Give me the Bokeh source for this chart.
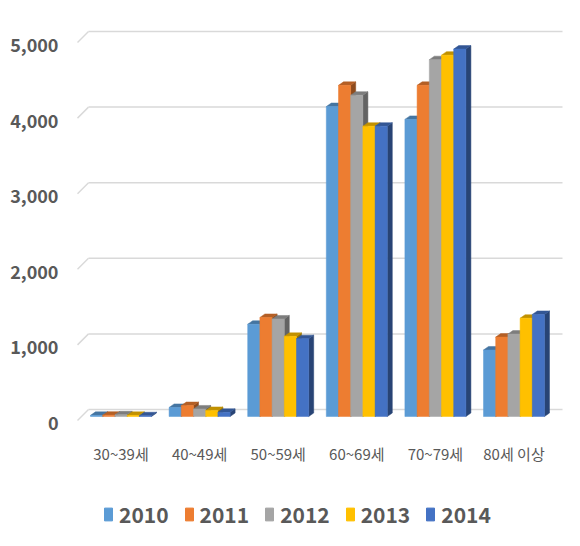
from bokeh.plotting import figure
from bokeh.layouts import column
from bokeh.models import Range1d, LinearAxis, FixedTicker, Legend, LegendItem, ColumnDataSource, NumeralTickFormatter
from bokeh.embed import file_html
from bokeh.resources import INLINE

categories = ["30~39세", "40~49세", "50~59세", "60~69세", "70~79세", "80세 이상"]
years = ["2010", "2011", "2012", "2013", "2014"]
v2010 = [15, 120, 1220, 4100, 3930, 880]
v2011 = [18, 145, 1310, 4380, 4380, 1050]
v2012 = [22, 100, 1290, 4250, 4720, 1090]
v2013 = [15, 80, 1060, 3840, 4780, 1300]
v2014 = [10, 55, 1030, 3840, 4860, 1350]
y_ticks = [0, 1000, 2000, 3000, 4000, 5000]
colors = ["#5B9BD5", "#ED7D31", "#A5A5A5", "#FFC000", "#4472C4"]
series = [v2010, v2011, v2012, v2013, v2014]

FONT = "Noto Sans CJK KR"
TXT = "#595959"


def shade(hx, f):
    hx = hx.lstrip("#")
    r, g, b = (int(hx[i:i + 2], 16) for i in (0, 2, 4))
    return "#%02X%02X%02X" % (int(r * f), int(g * f), int(b * f))


W, H_MAIN, H_LEG = 576, 470, 72
FL, FR, FT, FB = 75, 565, 20, 432      # frame edges in pixels
px_x = 78.6          # pixels per category unit
px_y = 0.0756        # pixels per value unit
x_origin = 81.2      # pixel of x = 0
y_zero = 416         # pixel of value 0 (bar plane)
x0r = (FL - x_origin) / px_x
x1r = (FR - x_origin) / px_x
y0, y1 = -(FB - y_zero) / px_y, (y_zero - FT) / px_y

p = figure(width=W, height=H_MAIN, output_backend="svg", toolbar_location=None,
           x_range=Range1d(x0r, x1r), y_range=Range1d(y0, y1),
           min_border_left=FL, min_border_right=W - FR, min_border_top=FT, min_border_bottom=H_MAIN - FB,
           y_axis_location=None, background_fill_color="white", border_fill_color="white")
p.outline_line_color = None
p.xgrid.visible = False
p.ygrid.visible = False

# back-wall gridlines (offset up/right for 3D look)
back_dy = 7 / px_y
back_dx0 = (88 - x_origin) / px_x
back_dx1 = (562 - x_origin) / px_x
slant_x = (77 - x_origin) / px_x
slant_dy = 11 / px_y
gy = [t + back_dy for t in y_ticks]
p.segment(x0=[back_dx0] * len(gy), y0=gy, x1=[back_dx1] * len(gy), y1=gy,
          line_color="#D9D9D9", line_width=1.5)
p.segment(x0=[slant_x] * len(gy), y0=[g - slant_dy for g in gy], x1=[back_dx0] * len(gy), y1=gy,
          line_color="#D9D9D9", line_width=1.5)

# 3D bars
bw = 12.2 / px_x
dx = 5 / px_x
dy = 3.5 / px_y
xs, ys, fc = [], [], []
for i, cat in enumerate(categories):
    left = i + 0.5 - 2.5 * bw
    for k, vals in enumerate(series):
        h = vals[i]
        xa = left + k * bw
        xb = xa + bw
        xs.append([xb, xb + dx, xb + dx, xb]); ys.append([0, dy, h + dy, h]); fc.append(shade(colors[k], 0.6))
        xs.append([xa, xb, xb + dx, xa + dx]); ys.append([h, h, h + dy, h + dy]); fc.append(shade(colors[k], 0.76))
        xs.append([xa, xb, xb, xa]); ys.append([0, 0, h, h]); fc.append(colors[k])

src = ColumnDataSource(dict(xs=xs, ys=ys, fc=fc))
p.patches("xs", "ys", source=src, fill_color="fc", line_color="fc", line_width=0.5)

p.xaxis.ticker = FixedTicker(ticks=[i + 0.5 for i in range(len(categories))])
p.xaxis.major_label_overrides = {i + 0.5: c for i, c in enumerate(categories)}
p.xaxis.axis_line_color = None
p.xaxis.major_tick_line_color = None
p.xaxis.minor_tick_line_color = None
p.xaxis.major_tick_out = 0
p.xaxis.major_tick_in = 0
p.xaxis.major_label_standoff = 10
p.xaxis.major_label_text_font = FONT
p.xaxis.major_label_text_font_size = "15px"
p.xaxis.major_label_text_color = TXT

lab_off = 86
p.extra_y_ranges = {"lab": Range1d(y0 + lab_off, y1 + lab_off)}
ya = LinearAxis(y_range_name="lab", ticker=FixedTicker(ticks=y_ticks),
                formatter=NumeralTickFormatter(format="0,0"))
ya.axis_line_color = None
ya.major_tick_line_color = None
ya.minor_tick_line_color = None
ya.major_tick_out = 0
ya.major_tick_in = 0
ya.major_label_standoff = 17
ya.major_label_text_font = FONT
ya.major_label_text_font_size = "18px"
ya.major_label_text_font_style = "bold"
ya.major_label_text_color = TXT
p.add_layout(ya, "left")

# legend in its own strip below the chart
lf = figure(width=W, height=H_LEG, output_backend="svg", toolbar_location=None,
            x_range=Range1d(0, 1), y_range=Range1d(0, 1),
            min_border_left=0, min_border_right=0, min_border_top=0, min_border_bottom=0,
            x_axis_location=None, y_axis_location=None,
            background_fill_color="white", border_fill_color="white")
lf.outline_line_color = None
lf.xgrid.visible = False
lf.ygrid.visible = False
items = []
for k, yr in enumerate(years):
    # swatch source placed outside the visible range; only its legend entry shows
    rk = lf.rect(x=[-5], y=[-5], width=0.1, height=0.1, fill_color=colors[k], line_color=colors[k])
    items.append(LegendItem(label=yr, renderers=[rk]))
leg = Legend(items=items, orientation="horizontal", location=(28, 13),
             label_text_font=FONT, label_text_font_size="21px", label_text_font_style="bold",
             label_text_color=TXT, glyph_width=10, glyph_height=16, label_standoff=6,
             spacing=15, padding=5, margin=0, border_line_color=None,
             background_fill_alpha=0)
lf.add_layout(leg, "center")

open("out.html", "w").write(file_html(column(p, lf, spacing=0), INLINE))
